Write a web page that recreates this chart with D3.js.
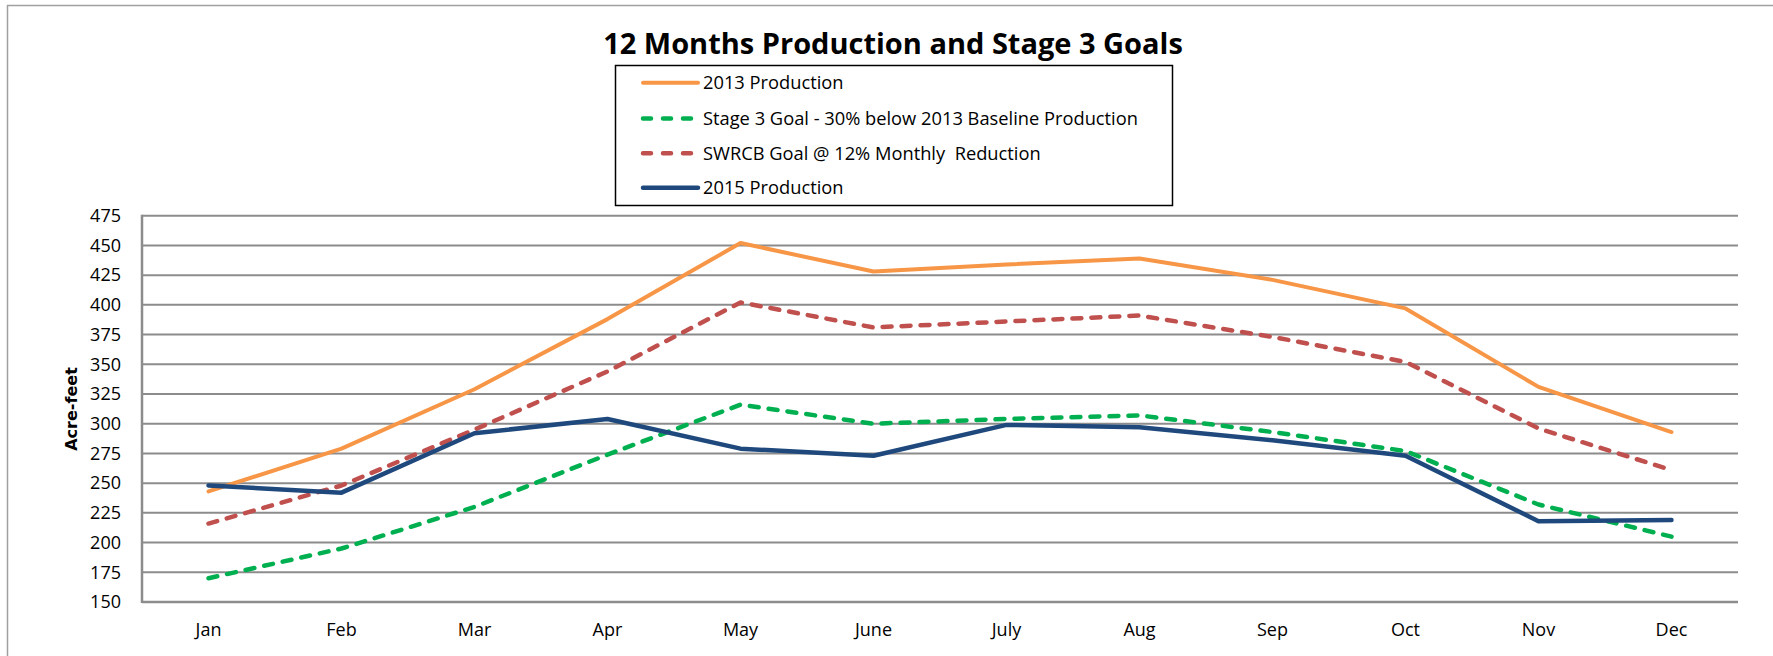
<!DOCTYPE html>
<html>
<head>
<meta charset="utf-8">
<script src="https://cdn.jsdelivr.net/npm/d3@7"></script>
<style>
    body { margin: 0; background: #fff; }
    text { font-family: "Open Sans", sans-serif; fill: #000; white-space: pre; }
</style>
</head>
<body>
<svg id="chart" width="1773" height="656"></svg>
<script>
// Months on the x axis.
const months = ["Jan", "Feb", "Mar", "Apr", "May", "June", "July", "Aug", "Sep", "Oct", "Nov", "Dec"];

// Series values (acre-feet).
const prod2013 = [243, 279, 329, 388, 452, 428, 434, 439, 421, 397, 331, 293];
const stage3Goal = [170, 195, 230, 274, 316, 300, 304, 307, 293, 277, 232, 205];
const swrcbGoal = [216, 248, 295, 344, 402, 381, 386, 391, 373, 352, 296, 261];
const prod2015 = [248, 242, 292, 304, 279, 273, 299, 297, 286, 273, 218, 219];

// Legend labels.
const seriesNames = [
    "2013 Production",
    "Stage 3 Goal - 30% below 2013 Baseline Production",
    "SWRCB Goal @ 12% Monthly  Reduction",
    "2015 Production"
];

// Y axis ticks.
const yTicks = d3.range(150, 476, 25);

const series = [
    {name: seriesNames[0], values: prod2013, color: "#f79646", dash: null, width: 4},
    {name: seriesNames[1], values: stage3Goal, color: "#00b050", dash: "9,10", width: 4.5},
    {name: seriesNames[2], values: swrcbGoal, color: "#c0504d", dash: "9,10", width: 4.5},
    {name: seriesNames[3], values: prod2015, color: "#1f497d", dash: null, width: 4.5}
];

const svg = d3.select("#chart");

// Outer chart border (top and left visible).
svg.append("rect")
    .attr("x", 7.5).attr("y", 5.5)
    .attr("width", 1800).attr("height", 700)
    .attr("fill", "#fff")
    .attr("stroke", "#a0a0a0")
    .attr("stroke-width", 1.5);

// Plot area.
const plot = {left: 142, right: 1738, top: 215.7, bottom: 602};

const x = d3.scaleBand()
    .domain(months)
    .range([plot.left, plot.right]);

const y = d3.scaleLinear()
    .domain([150, 475])
    .range([plot.bottom, plot.top]);

// Horizontal gridlines.
svg.append("g")
    .selectAll("line")
    .data(yTicks)
    .join("line")
    .attr("x1", plot.left)
    .attr("x2", plot.right)
    .attr("y1", d => y(d))
    .attr("y2", d => y(d))
    .attr("stroke", "#8c8c8c")
    .attr("stroke-width", d => d === 150 ? 2.5 : 2);

// Left axis line.
svg.append("line")
    .attr("x1", plot.left).attr("x2", plot.left)
    .attr("y1", plot.top - 1).attr("y2", plot.bottom + 1)
    .attr("stroke", "#8c8c8c")
    .attr("stroke-width", 2.5);

// Y tick labels.
svg.append("g")
    .selectAll("text")
    .data(yTicks)
    .join("text")
    .attr("x", 121)
    .attr("y", d => y(d))
    .attr("dy", "0.35em")
    .attr("text-anchor", "end")
    .attr("font-size", 18)
    .text(d => d);

// X labels.
svg.append("g")
    .selectAll("text")
    .data(months)
    .join("text")
    .attr("x", d => x(d) + x.bandwidth() / 2)
    .attr("y", 636)
    .attr("text-anchor", "middle")
    .attr("font-size", 18)
    .text(d => d);

// Y axis title.
svg.append("text")
    .attr("transform", "translate(71,409) rotate(-90)")
    .attr("text-anchor", "middle")
    .attr("dy", "0.35em")
    .style("font-family", "'DejaVu Sans', sans-serif")
    .attr("font-weight", "bold")
    .attr("font-size", 16)
    .text("Acre-feet");

// Title.
svg.append("text")
    .attr("x", 893)
    .attr("y", 54)
    .attr("text-anchor", "middle")
    .attr("font-weight", "bold")
    .attr("font-size", 29)
    .text("12 Months Production and Stage 3 Goals");

// Lines.
const line = d3.line()
    .x((d, i) => x(months[i]) + x.bandwidth() / 2)
    .y(d => y(d));

svg.append("g")
    .selectAll("path")
    .data(series)
    .join("path")
    .attr("d", d => line(d.values))
    .attr("fill", "none")
    .attr("stroke", d => d.color)
    .attr("stroke-width", d => d.width)
    .attr("stroke-dasharray", d => d.dash)
    .attr("stroke-linecap", "round")
    .attr("stroke-linejoin", "round");

// Legend.
const legend = svg.append("g");

legend.append("rect")
    .attr("x", 615.5).attr("y", 65.5)
    .attr("width", 557).attr("height", 140)
    .attr("fill", "#fff")
    .attr("stroke", "#000")
    .attr("stroke-width", 1.5);

const legendRowY = [82.7, 118.5, 153.3, 187.7];

const item = legend.selectAll("g.item")
    .data(series)
    .join("g")
    .attr("class", "item")
    .attr("transform", (d, i) => "translate(0," + legendRowY[i] + ")");

item.append("line")
    .attr("x1", 643).attr("x2", 698)
    .attr("stroke", d => d.color)
    .attr("stroke-width", d => d.width)
    .attr("stroke-dasharray", d => d.dash ? "8,12" : null)
    .attr("stroke-linecap", "round");

item.append("text")
    .attr("x", 703)
    .attr("dy", "0.35em")
    .attr("font-size", 18.3)
    .text(d => d.name);
</script>
</body>
</html>
